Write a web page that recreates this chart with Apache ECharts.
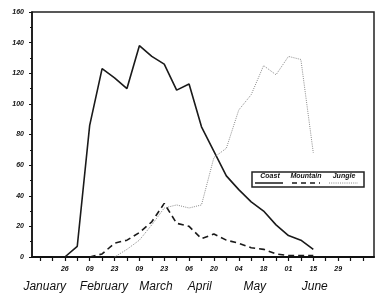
<!DOCTYPE html>
<html>
<head>
<meta charset="utf-8">
<script src="https://cdn.jsdelivr.net/npm/echarts@6/dist/echarts.min.js"></script>
<style>
  html, body { margin: 0; padding: 0; background: #fff; }
  #chart { width: 379px; height: 307px; }
</style>
</head>
<body>
<div id="chart"></div>
<script>
// x values are day of year (Jan 1 = 1), weekly samples
const days = [12, 19, 26, 33, 40, 47, 54, 61, 68, 75, 82, 89, 96, 103, 110, 117, 124, 131, 138, 145, 152, 159, 166];
const coast = [null, 0, 0, 7, 86, 123, 117, 110, 138, 131, 126, 109, 113, 85, 69, 53, 44, 36, 30, 21, 14, 11, 5];
const mountain = [null, null, null, null, 0, 2, 9, 11, 16, 23, 35, 22, 20, 12, 15, 11, 9, 6, 5, 2, 1, 1, 1];
const jungle = [null, null, null, null, null, null, 0, 5, 11, 21, 32, 34, 32, 34, 65, 71, 96, 106, 125, 119, 131, 129, 68];

// bottom axis ticks / labels
const weekTicks = [12, 19, 26, 33, 40, 47, 54, 61, 68, 75, 82, 89, 96, 103, 110, 117, 124, 131, 138, 145, 152, 159, 166, 173, 180, 187, 194];
const labelDays = [26, 40, 54, 68, 82, 96, 110, 124, 138, 152, 166, 180];
const labelText = ['26', '09', '23', '09', '23', '06', '20', '04', '18', '01', '15', '29'];
const monthDays = [14.7, 48, 77.3, 102, 133, 166.8];
const monthText = ['January', 'February', 'March', 'April', 'May', 'June'];

const xMin = 7.5, xMax = 200.2;

function pairs(vals) {
  return days.map((d, i) => [d, vals[i]]);
}

const chart = echarts.init(document.getElementById('chart'));
chart.setOption({
  animation: false,
  grid: { left: 32, right: 5, top: 12, bottom: 50, show: true, borderColor: '#222', borderWidth: 1.5 },
  xAxis: [{
    type: 'value', min: xMin, max: xMax,
    axisLine: { lineStyle: { color: '#111', width: 2 } },
    axisTick: { inside: false, length: 4, customValues: weekTicks, lineStyle: { color: '#111', width: 1.2 } },
    axisLabel: {
      customValues: labelDays, margin: 9,
      fontFamily: 'Liberation Sans', fontStyle: 'italic', fontWeight: 'bold', fontSize: 7, color: '#111',
      formatter: v => labelText[labelDays.indexOf(v)]
    },
    splitLine: { show: false }
  }, {
    type: 'value', min: xMin, max: xMax, position: 'bottom',
    axisLine: { show: false }, axisTick: { show: false },
    axisLabel: {
      customValues: monthDays, margin: 24,
      fontFamily: 'Liberation Sans', fontStyle: 'italic', fontSize: 12, color: '#111',
      formatter: v => monthText[monthDays.indexOf(v)]
    },
    splitLine: { show: false }
  }],
  yAxis: {
    type: 'value', min: 0, max: 160, interval: 20,
    axisLine: { show: true, lineStyle: { color: '#111', width: 1.5 } },
    axisTick: { show: true, length: 3, lineStyle: { color: '#111' } },
    minorTick: { show: true, splitNumber: 2, length: 2, lineStyle: { color: '#111' } },
    axisLabel: { margin: 8, fontFamily: 'Liberation Sans', fontStyle: 'italic', fontWeight: 'bold', fontSize: 7, color: '#111' },
    splitLine: { show: false }
  },
  series: [{
    name: 'Coast', type: 'line', data: pairs(coast), showSymbol: false,
    lineStyle: { color: '#1a1a1a', width: 1.6 }
  }, {
    name: 'Mountain', type: 'line', data: pairs(mountain), showSymbol: false,
    lineStyle: { color: '#1a1a1a', width: 1.6, type: [6, 4] }
  }, {
    name: 'Jungle', type: 'line', data: pairs(jungle), showSymbol: false,
    lineStyle: { color: '#888', width: 1, type: [1, 1.2] }
  }],
  graphic: [
    { type: 'rect', shape: { x: 252, y: 172, width: 112, height: 15 }, style: { fill: '#fff', stroke: '#222', lineWidth: 1.5 }, z: 100 },
    { type: 'text', x: 270, y: 176.5, style: { text: 'Coast', font: 'italic bold 7px "Liberation Sans"', fill: '#111', align: 'center', verticalAlign: 'middle' }, z: 101 },
    { type: 'text', x: 306, y: 176.5, style: { text: 'Mountain', font: 'italic bold 7px "Liberation Sans"', fill: '#111', align: 'center', verticalAlign: 'middle' }, z: 101 },
    { type: 'text', x: 344, y: 176.5, style: { text: 'Jungle', font: 'italic bold 7px "Liberation Sans"', fill: '#111', align: 'center', verticalAlign: 'middle' }, z: 101 },
    { type: 'line', shape: { x1: 255, y1: 183, x2: 283, y2: 183 }, style: { stroke: '#1a1a1a', lineWidth: 1.5 }, z: 101 },
    { type: 'line', shape: { x1: 292, y1: 183, x2: 320, y2: 183 }, style: { stroke: '#1a1a1a', lineWidth: 1.5, lineDash: [5, 4] }, z: 101 },
    { type: 'line', shape: { x1: 329, y1: 183, x2: 358, y2: 183 }, style: { stroke: '#888', lineWidth: 1, lineDash: [1, 1.2] }, z: 101 }
  ]
});
</script>
</body>
</html>
